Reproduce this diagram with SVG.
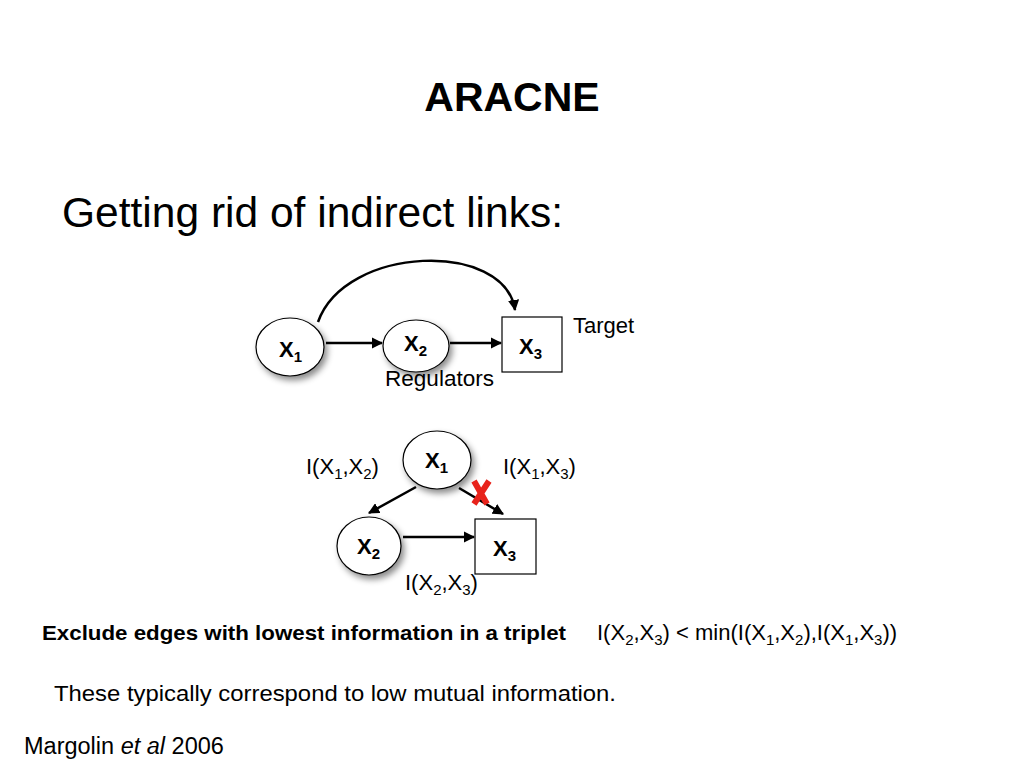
<svg xmlns="http://www.w3.org/2000/svg" width="1024" height="768" viewBox="0 0 1024 768">
<defs>
<style>
text{font-family:"Liberation Sans",Arial,sans-serif;fill:#000}
.b{font-weight:bold}
.node{fill:#fff;stroke:#000;stroke-width:1.2}
.lbl{font-size:22px;font-weight:bold}
.t{font-size:22px}
.edge{fill:none;stroke:#000;stroke-width:2.5}
</style>
<filter id="sh" x="-30%" y="-30%" width="170%" height="170%">
<feDropShadow dx="3" dy="4" stdDeviation="3" flood-color="#000" flood-opacity="0.45"/>
</filter>
<marker id="ah" viewBox="0 0 10 10" refX="9" refY="5" markerWidth="4.5" markerHeight="4.5" orient="auto" markerUnits="strokeWidth">
<path d="M0,0 L10,5 L0,10 z" fill="#000"/>
</marker>
</defs>
<rect width="1024" height="768" fill="#fff"/>

<text x="512" y="111" text-anchor="middle" class="b" font-size="41">ARACNE</text>
<text x="62" y="227" font-size="42.5" textLength="501" lengthAdjust="spacingAndGlyphs">Getting rid of indirect links:</text>

<g id="connectors">
<path class="edge" d="M318,322 C345,245 505,240 515,310" marker-end="url(#ah)"/>
<line class="edge" x1="326" y1="343" x2="382" y2="343" marker-end="url(#ah)"/>
<line class="edge" x1="450" y1="343" x2="501" y2="343" marker-end="url(#ah)"/>
<line class="edge" x1="416" y1="487" x2="369" y2="513" marker-end="url(#ah)"/>
<line class="edge" x1="459" y1="488" x2="503" y2="514" marker-end="url(#ah)"/>
<line class="edge" x1="403" y1="537" x2="474" y2="537" marker-end="url(#ah)"/>
</g>

<g id="top-x1">
<ellipse class="node" cx="290" cy="347" rx="34" ry="29" filter="url(#sh)"/>
<text x="279" y="357" class="lbl">X<tspan font-size="15" dy="5">1</tspan></text>
</g>
<g id="top-x2">
<ellipse class="node" cx="416" cy="346" rx="33" ry="26" filter="url(#sh)"/>
<text x="404" y="351" class="lbl">X<tspan font-size="15" dy="5">2</tspan></text>
</g>
<g id="top-x3">
<rect class="node" x="502" y="317" width="60" height="55"/>
<text x="519" y="354" class="lbl">X<tspan font-size="15" dy="5">3</tspan></text>
</g>
<text x="573" y="333" class="t">Target</text>
<text x="385" y="386" class="t" textLength="109" lengthAdjust="spacingAndGlyphs">Regulators</text>

<g id="bot-x1">
<ellipse class="node" cx="437" cy="460" rx="34" ry="29" filter="url(#sh)"/>
<text x="425" y="468" class="lbl">X<tspan font-size="15" dy="5">1</tspan></text>
</g>
<g id="bot-x2">
<ellipse class="node" cx="369" cy="546" rx="32" ry="29" filter="url(#sh)"/>
<text x="357" y="554" class="lbl">X<tspan font-size="15" dy="5">2</tspan></text>
</g>
<g id="bot-x3">
<rect class="node" x="475" y="519" width="61" height="55"/>
<text x="493" y="556" class="lbl">X<tspan font-size="15" dy="5">3</tspan></text>
</g>

<g id="red-x">
<path d="M474,481 L487,504 M489,481 L474,504" stroke="#e8231b" stroke-width="6" stroke-linecap="butt" fill="none"/>
</g>

<text x="306" y="474" class="t">I(X<tspan font-size="15" dy="5">1</tspan><tspan dy="-5">,X</tspan><tspan font-size="15" dy="5">2</tspan><tspan dy="-5">)</tspan></text>
<text x="503" y="474" class="t">I(X<tspan font-size="15" dy="5">1</tspan><tspan dy="-5">,X</tspan><tspan font-size="15" dy="5">3</tspan><tspan dy="-5">)</tspan></text>
<text x="405" y="590" class="t">I(X<tspan font-size="15" dy="5">2</tspan><tspan dy="-5">,X</tspan><tspan font-size="15" dy="5">3</tspan><tspan dy="-5">)</tspan></text>

<text x="42" y="640" class="t b" font-size="21" style="font-size:21px" textLength="524" lengthAdjust="spacingAndGlyphs">Exclude edges with lowest information in a triplet</text>
<text x="597" y="640" class="t">I(X<tspan font-size="15" dy="5">2</tspan><tspan dy="-5">,X</tspan><tspan font-size="15" dy="5">3</tspan><tspan dy="-5">) &lt; min(I(X</tspan><tspan font-size="15" dy="5">1</tspan><tspan dy="-5">,X</tspan><tspan font-size="15" dy="5">2</tspan><tspan dy="-5">),I(X</tspan><tspan font-size="15" dy="5">1</tspan><tspan dy="-5">,X</tspan><tspan font-size="15" dy="5">3</tspan><tspan dy="-5">))</tspan></text>

<text x="54" y="701" class="t" textLength="562" lengthAdjust="spacingAndGlyphs">These typically correspond to low mutual information.</text>
<text x="24" y="754" class="t" style="font-size:23.5px">Margolin <tspan font-style="italic">et al</tspan> 2006</text>
</svg>
